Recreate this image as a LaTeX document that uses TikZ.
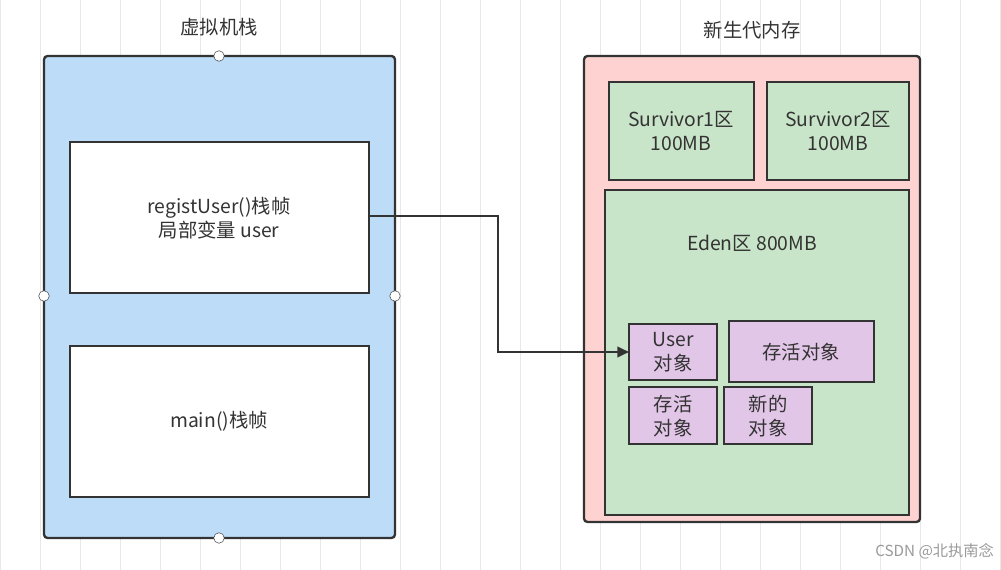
\documentclass[tikz,border=0pt]{standalone}
\usepackage{fontspec}
\setmainfont{Noto Sans CJK SC}
\usetikzlibrary{arrows.meta}
\definecolor{stackblue}{HTML}{BDDCF8}
\definecolor{heappink}{HTML}{FFD2D2}
\definecolor{edengreen}{HTML}{C9E5C9}
\definecolor{objpurple}{HTML}{E2C6E8}
\definecolor{edgegray}{HTML}{333333}
\begin{document}
\begin{tikzpicture}[x=0.03cm,y=-0.03cm,
  every node/.style={font=\fontsize{16.5}{20}\selectfont,text=edgegray,align=center},
  area/.style={draw=edgegray,line width=2pt,rounded corners=3pt},
  frame/.style={draw=edgegray,line width=1.8pt,fill=white},
  obj/.style={draw=edgegray,line width=2pt,fill=objpurple},
  handle/.style={circle,draw=edgegray,fill=white,inner sep=0pt,minimum size=9pt}]

  \useasboundingbox (0,0) rectangle (1001,570);
  % background grid
  \draw[black!9,step=40] (0,0) grid (1001,570);

  % stack
  \node at (219,27) {虚拟机栈};
  \draw[area,fill=stackblue] (44,56) rectangle (395,538);
  \draw[frame] (70,142) rectangle (369,293);
  \draw[frame] (70,346) rectangle (369,497);
  \node (regist) at (219,218) {registUser()栈帧\\局部变量 user};
  \node (main) at (219,421) {main()栈帧};
  \coordinate (out) at (369,216);
  \foreach \p in {(219,56),(219,538),(44,296),(395,296)}
    \node[handle] at \p {};

  % young generation
  \node at (752,30) {新生代内存};
  \draw[area,fill=heappink] (584,56) rectangle (920,522);
  \draw[obj,fill=edengreen] (609,82) rectangle (754,180);
  \draw[obj,fill=edengreen] (767,82) rectangle (909,180);
  \draw[obj,fill=edengreen] (605,190) rectangle (909,515);
  \node at (681,131) {Survivor1区\\100MB};
  \node at (838,131) {Survivor2区\\100MB};
  \node at (752,243) {Eden区 800MB};

  \draw[obj] (629,324) rectangle (717,380);
  \draw[obj] (729,321) rectangle (874,382);
  \draw[obj] (629,387) rectangle (717,444);
  \draw[obj] (724,387) rectangle (812,444);
  \node (user) at (673,352) {User\\对象};
  \node at (801,352) {存活对象};
  \node at (673,416) {存活\\对象};
  \node at (768,416) {新的\\对象};
  \coordinate (in) at (629,352);

  \draw[edgegray,line width=2pt,-{Triangle[length=10pt,width=9pt]}]
    (out) -| (498,284) |- (in);

  \node[text=black!40,font=\fontsize{13}{15}\selectfont,anchor=east] at (998,551) {CSDN @北执南念};
\end{tikzpicture}
\end{document}
